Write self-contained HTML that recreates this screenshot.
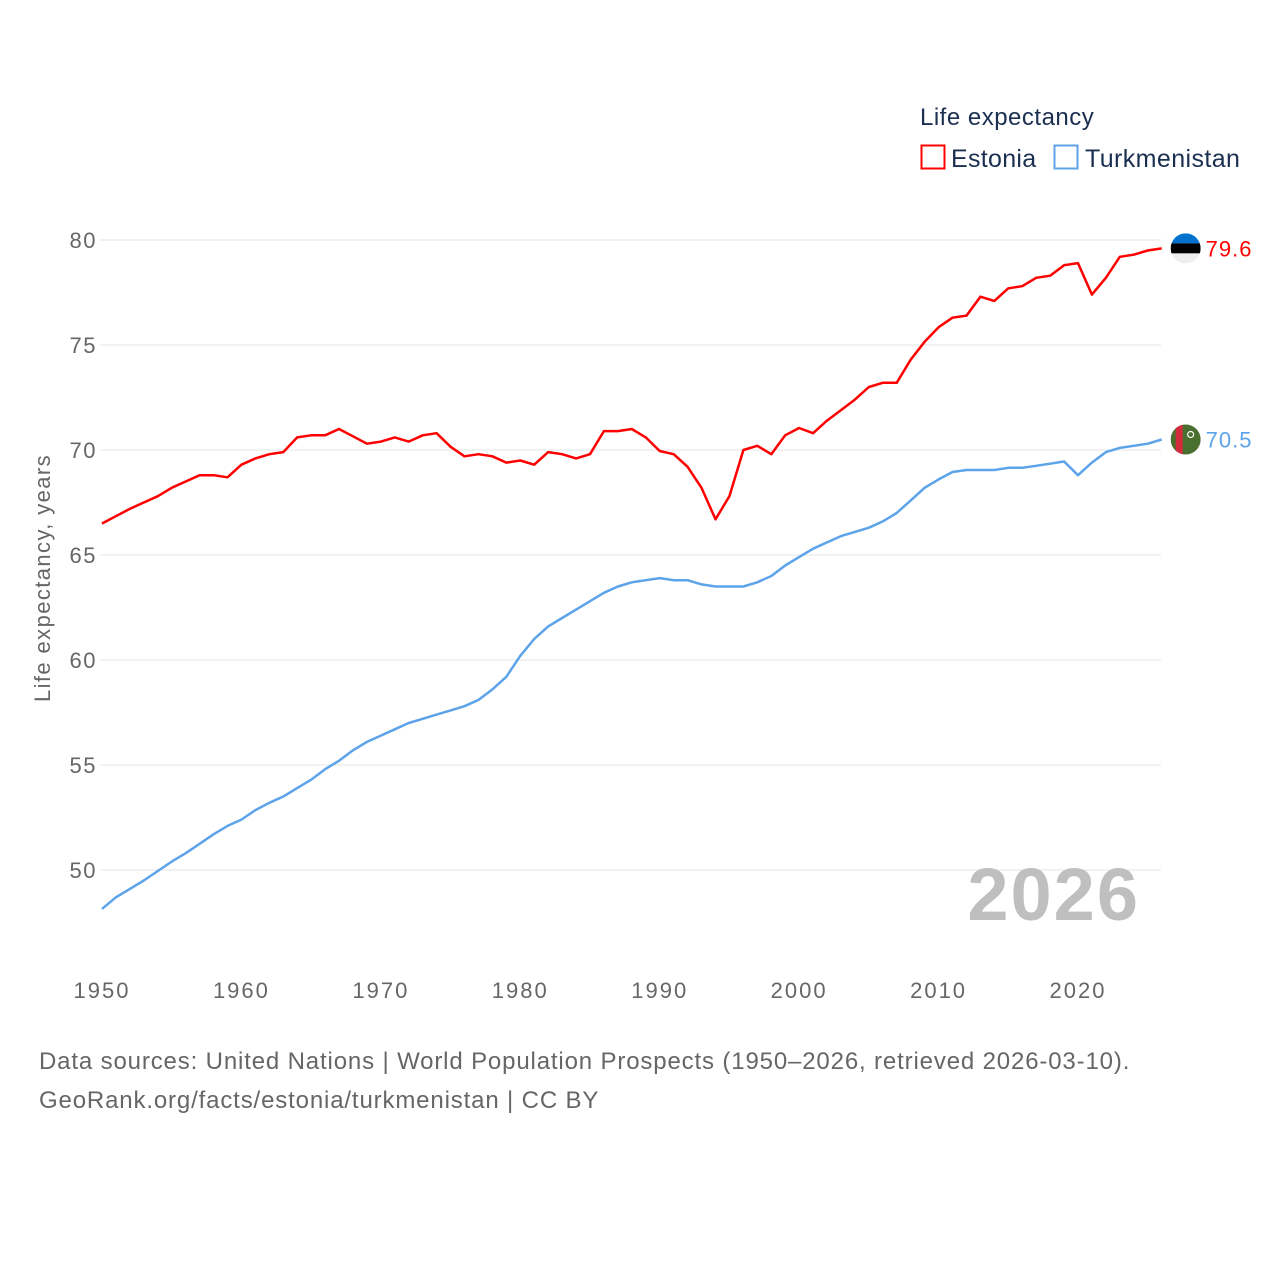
<!DOCTYPE html>
<html><head><meta charset="utf-8"><style>
html,body{margin:0;padding:0;background:#fff;}
svg{display:block;font-family:"Liberation Sans",sans-serif;}
</style></head><body>
<svg id="chart" width="1280" height="1280" viewBox="0 0 1280 1280">
<g>
<text x="920" y="125" font-size="24" letter-spacing="0.5" fill="#1b2f50">Life expectancy</text>
<g><rect x="921.5" y="145.5" width="23" height="23" fill="none" stroke="#ff0000" stroke-width="2"/><text x="951" y="167" font-size="25" letter-spacing="0.3" fill="#1b2f50">Estonia</text></g>
<g><rect x="1054.5" y="145.5" width="23" height="23" fill="none" stroke="#5da3ea" stroke-width="2"/><text x="1085" y="167" font-size="25" letter-spacing="0.4" fill="#1b2f50">Turkmenistan</text></g>
</g>
<g id="grid"></g>
<g id="yticks"></g>
<g id="xticks"></g>
<text transform="translate(50,578) rotate(-90)" text-anchor="middle" font-size="22" letter-spacing="1.4" fill="#666">Life expectancy, years</text>
<text x="1140" y="920" text-anchor="end" font-size="74" letter-spacing="2" font-weight="bold" fill="#bfbfbf">2026</text>
<g id="series"></g>
<g id="ends"></g>
<text x="39" y="1069" font-size="24" letter-spacing="0.85" fill="#666">Data sources: United Nations | World Population Prospects (1950–2026, retrieved 2026-03-10).</text>
<text x="39" y="1108" font-size="24" letter-spacing="0.85" fill="#666">GeoRank.org/facts/estonia/turkmenistan | CC BY</text>
</svg>
<script>
const years = [];
for (let y = 1950; y <= 2026; y++) years.push(y);
const estonia = [66.5,66.85,67.2,67.5,67.8,68.2,68.5,68.8,68.8,68.7,69.3,69.6,69.8,69.9,70.6,70.7,70.7,71.0,70.65,70.3,70.4,70.6,70.4,70.7,70.8,70.15,69.7,69.8,69.7,69.4,69.5,69.3,69.9,69.8,69.6,69.8,70.9,70.9,71.0,70.6,69.95,69.8,69.2,68.2,66.7,67.8,70.0,70.2,69.8,70.7,71.05,70.8,71.4,71.9,72.4,73.0,73.2,73.2,74.3,75.15,75.85,76.3,76.4,77.3,77.1,77.7,77.8,78.2,78.3,78.8,78.9,77.4,78.2,79.2,79.3,79.5,79.6];
const turkmenistan = [48.15,48.7,49.1,49.5,49.95,50.4,50.8,51.25,51.7,52.1,52.4,52.85,53.2,53.5,53.9,54.3,54.8,55.2,55.7,56.1,56.4,56.7,57.0,57.2,57.4,57.6,57.8,58.1,58.6,59.2,60.2,61.0,61.6,62.0,62.4,62.8,63.2,63.5,63.7,63.8,63.9,63.8,63.8,63.6,63.5,63.5,63.5,63.7,64.0,64.5,64.9,65.3,65.6,65.9,66.1,66.3,66.6,67.0,67.6,68.2,68.6,68.95,69.05,69.05,69.05,69.15,69.15,69.25,69.35,69.45,68.8,69.4,69.9,70.1,70.2,70.3,70.5];
const yTicks = [50,55,60,65,70,75,80];
const xTicks = [1950,1960,1970,1980,1990,2000,2010,2020];
const NS = "http://www.w3.org/2000/svg";
const x = yr => 102 + (yr - 1950) * (976 / 70);
const y = v => 240 + (80 - v) * 21;
function mk(tag, attrs, parent) { const e = document.createElementNS(NS, tag); for (const k in attrs) e.setAttribute(k, attrs[k]); parent.appendChild(e); return e; }
const grid = document.getElementById('grid'), yt = document.getElementById('yticks'), xt = document.getElementById('xticks');
yTicks.forEach(v => {
  const l = mk('line', {x1: 100, x2: 1161, y1: y(v), y2: y(v), stroke: '#e6e6e6', 'stroke-width': 1}, grid);
  
  
  const t = mk('text', {x: 97, y: y(v) + 8, 'text-anchor': 'end', 'font-size': 22, 'letter-spacing': 1.5, fill: '#666'}, yt);
  
  
  t.textContent = v;
});
xTicks.forEach(v => {
  const t = mk('text', {x: x(v), y: 998, 'text-anchor': 'middle', 'font-size': 22, 'letter-spacing': 2, fill: '#666'}, xt);
  
  
  t.textContent = v;
});
const ser = document.getElementById('series'), ends = document.getElementById('ends');
function line(vals, color, name) {
  const d = vals.map((v, i) => (i ? 'L' : 'M') + x(years[i]).toFixed(1) + ' ' + y(v).toFixed(1)).join(' ');
  const p = mk('path', {d: d, fill: 'none', stroke: color, 'stroke-width': 2.5, 'stroke-linejoin': 'round'}, ser);
  
  
}
line(estonia, '#ff0000', 'estonia');
line(turkmenistan, '#5da3ea', 'turkmenistan');
const ex = x(2026) + 24, ey = y(estonia[estonia.length - 1]);
const fe = mk('g', {}, ends);


mk('defs', {}, fe).innerHTML = '<clipPath id="ce"><circle cx="' + ex + '" cy="' + ey + '" r="15"/></clipPath><clipPath id="ct"><circle cx="' + ex + '" cy="' + y(70.5) + '" r="15"/></clipPath>';
const ge = mk('g', {'clip-path': 'url(#ce)'}, fe);
mk('rect', {x: ex - 15, y: ey - 15, width: 30, height: 10, fill: '#0072ce'}, ge);
mk('rect', {x: ex - 15, y: ey - 5, width: 30, height: 10, fill: '#000'}, ge);
mk('rect', {x: ex - 15, y: ey + 5, width: 30, height: 10, fill: '#eee'}, ge);
const le = mk('text', {x: ex + 20, y: ey + 8, 'font-size': 22, 'letter-spacing': 1, fill: '#ff0000'}, ends);


le.textContent = estonia[estonia.length - 1].toFixed(1);
const ty = y(turkmenistan[turkmenistan.length - 1]);
const ft = mk('g', {'clip-path': 'url(#ct)'}, ends);


mk('rect', {x: ex - 15, y: ty - 15, width: 30, height: 30, fill: '#4a7030'}, ft);
mk('rect', {x: ex - 10, y: ty - 15, width: 7, height: 30, fill: '#d22b3c'}, ft);
mk('circle', {cx: ex + 5, cy: ty - 5, r: 3, fill: 'none', stroke: '#fff', 'stroke-width': 1.2}, ft);
const lt = mk('text', {x: ex + 20, y: ty + 8, 'font-size': 22, 'letter-spacing': 1, fill: '#5da3ea'}, ends);


lt.textContent = turkmenistan[turkmenistan.length - 1].toFixed(1);
</script>
</body></html>
